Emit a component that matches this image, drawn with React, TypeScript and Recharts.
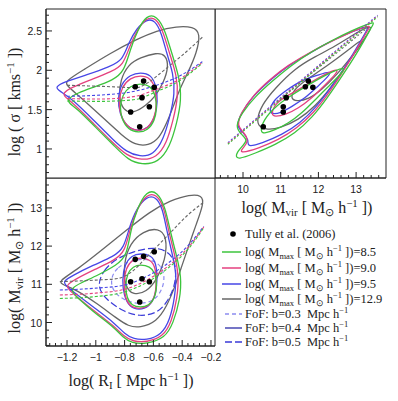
import React from 'react';
import { ComposedChart, Line, Scatter, XAxis, YAxis, ReferenceArea } from 'recharts';

// ---------------- data ----------------
// Tully et al. (2006) groups
const tullyLogR = [-0.726, -0.668, -0.594, -0.679, -0.628, -0.758, -0.695];
const tullyLogSigma = [1.79, 1.864, 1.784, 1.652, 1.537, 1.47, 1.283];
const tullyLogMvir = [11.654, 11.733, 11.853, 11.147, 11.068, 11.068, 10.537];

// tick labels
const rMajorTicks = [-1.2, -1, -0.8, -0.6, -0.4, -0.2];
const sigmaMajorTicks = [1, 1.5, 2, 2.5];
const mvirMajorTicks = [10, 11, 12, 13];

// ---- top-left panel: log sigma vs log R ----
const tlGrayOuter = [[-1.215, 1.86], [-1.087, 2.004], [-0.901, 2.216], [-0.716, 2.394], [-0.577, 2.504], [-0.438, 2.56], [-0.323, 2.555], [-0.272, 2.47], [-0.3, 2.216], [-0.357, 1.983], [-0.415, 1.771], [-0.462, 1.538], [-0.508, 1.326], [-0.559, 1.136], [-0.635, 1.04], [-0.728, 1.052], [-0.809, 1.157], [-0.971, 1.432], [-1.11, 1.665], [-1.2, 1.8]];
const tlGrayInner = [[-0.693, 2.16], [-0.577, 2.225], [-0.515, 2.2], [-0.493, 2.047], [-0.531, 1.835], [-0.589, 1.665], [-0.647, 1.559], [-0.739, 1.45], [-0.812, 1.49], [-0.84, 1.665], [-0.83, 1.877], [-0.774, 2.075]];
const tlBlueOuter = [[-1.285, 1.784], [-1.214, 1.856], [-1.063, 1.941], [-0.901, 2.047], [-0.813, 2.131], [-0.774, 2.343], [-0.716, 2.534], [-0.647, 2.65], [-0.589, 2.638], [-0.543, 2.47], [-0.508, 2.216], [-0.462, 1.962], [-0.45, 1.708], [-0.485, 1.411], [-0.531, 1.114], [-0.6, 0.925], [-0.693, 0.9], [-0.786, 0.96], [-0.878, 1.114], [-1.017, 1.369], [-1.156, 1.623], [-1.255, 1.742]];
const tlPinkOuter = [[-1.232, 1.708], [-1.168, 1.784], [-1.04, 1.877], [-0.89, 1.983], [-0.809, 2.068], [-0.767, 2.3], [-0.712, 2.513], [-0.647, 2.672], [-0.582, 2.667], [-0.531, 2.492], [-0.489, 2.216], [-0.438, 1.941], [-0.427, 1.665], [-0.462, 1.369], [-0.508, 1.072], [-0.577, 0.89], [-0.681, 0.855], [-0.786, 0.915], [-0.878, 1.072], [-1.017, 1.326], [-1.144, 1.559], [-1.212, 1.657]];
const tlGreenOuter = [[-1.198, 1.631], [-1.133, 1.708], [-1.017, 1.784], [-0.878, 1.877], [-0.804, 1.983], [-0.762, 2.258], [-0.709, 2.513], [-0.647, 2.702], [-0.577, 2.694], [-0.519, 2.513], [-0.473, 2.216], [-0.42, 1.919], [-0.404, 1.623], [-0.438, 1.326], [-0.485, 1.03], [-0.566, 0.825], [-0.681, 0.8], [-0.774, 0.858], [-0.867, 1.03], [-1.006, 1.284], [-1.133, 1.517], [-1.185, 1.58]];
const tlBlueInner = [[-0.69, 1.975], [-0.615, 1.945], [-0.58, 1.8], [-0.57, 1.6], [-0.585, 1.42], [-0.635, 1.26], [-0.71, 1.225], [-0.785, 1.28], [-0.835, 1.45], [-0.848, 1.63], [-0.825, 1.83], [-0.76, 1.945]];
const tlPinkInner = [[-0.69, 1.935], [-0.62, 1.905], [-0.585, 1.77], [-0.576, 1.58], [-0.59, 1.4], [-0.64, 1.255], [-0.71, 1.225], [-0.78, 1.275], [-0.83, 1.43], [-0.842, 1.6], [-0.82, 1.79], [-0.76, 1.905]];
const tlGreenInner = [[-0.69, 1.835], [-0.62, 1.805], [-0.585, 1.68], [-0.576, 1.52], [-0.59, 1.36], [-0.64, 1.235], [-0.705, 1.205], [-0.775, 1.245], [-0.82, 1.375], [-0.834, 1.53], [-0.815, 1.69], [-0.76, 1.805]];
const tlGrayMean = [[-1.2, 1.81], [-0.95, 1.795], [-0.72, 1.78], [-0.64, 1.84], [-0.56, 1.95], [-0.5, 2.04], [-0.4, 2.19], [-0.26, 2.42]];
const tlBlueMean = [[-1.2, 1.67], [-0.97, 1.685], [-0.74, 1.73], [-0.577, 1.81], [-0.415, 1.93], [-0.26, 2.11]];
const tlPinkMean = [[-1.2, 1.64], [-0.97, 1.635], [-0.74, 1.665], [-0.577, 1.76], [-0.415, 1.89], [-0.26, 2.1]];
const tlGreenMean = [[-1.2, 1.61], [-0.97, 1.605], [-0.74, 1.625], [-0.577, 1.73], [-0.415, 1.87], [-0.26, 2.09]];

// ---- top-right panel: log sigma vs log Mvir ----
const trGreenOuter = [[9.85, 0.86], [10.318, 0.945], [10.849, 1.051], [11.379, 1.199], [11.821, 1.39], [12.263, 1.665], [12.706, 1.983], [13.103, 2.28], [13.413, 2.555], [13.5, 2.615], [13.324, 2.589], [12.882, 2.504], [12.352, 2.377], [11.821, 2.237], [11.291, 2.068], [10.76, 1.856], [10.318, 1.665], [9.965, 1.453], [9.788, 1.284], [9.965, 1.178], [10.141, 1.114], [9.92, 1.008], [9.8, 0.924]];
const trPinkOuter = [[9.92, 0.945], [10.407, 1.008], [10.937, 1.114], [11.424, 1.263], [11.866, 1.453], [12.308, 1.729], [12.706, 2.025], [13.059, 2.301], [13.324, 2.521], [13.38, 2.57], [13.192, 2.547], [12.794, 2.47], [12.263, 2.352], [11.733, 2.216], [11.202, 2.068], [10.716, 1.886], [10.274, 1.686], [9.947, 1.462], [9.832, 1.292], [10.035, 1.208], [10.159, 1.093], [9.965, 0.996]];
const trBlueOuter = [[10.097, 1.021], [10.495, 1.072], [11.026, 1.178], [11.512, 1.326], [11.954, 1.538], [12.352, 1.792], [12.75, 2.068], [13.059, 2.322], [13.28, 2.504], [13.335, 2.56], [13.148, 2.538], [12.75, 2.462], [12.219, 2.343], [11.689, 2.195], [11.158, 2.047], [10.672, 1.856], [10.23, 1.657], [9.92, 1.432], [9.823, 1.284], [10.009, 1.208], [10.159, 1.114]];
const trGrayOuter = [[10.363, 1.369], [10.495, 1.559], [10.849, 1.771], [11.379, 2.025], [11.91, 2.174], [12.44, 2.301], [12.971, 2.47], [13.38, 2.57], [13.41, 2.53], [13.103, 2.322], [12.75, 2.068], [12.352, 1.792], [11.91, 1.538], [11.468, 1.369], [10.981, 1.263], [10.628, 1.242], [10.424, 1.284]];
const trGrayInner = [[11.247, 1.644], [11.379, 1.771], [11.733, 1.898], [12.263, 2.068], [12.794, 2.258], [13.148, 2.394], [13.192, 2.364], [12.882, 2.174], [12.485, 1.941], [12.087, 1.75], [11.733, 1.631], [11.424, 1.602]];
const trGreenInner = [[10.451, 1.208], [10.539, 1.369], [10.849, 1.538], [11.291, 1.686], [11.733, 1.814], [12.263, 1.962], [12.706, 2.047], [12.661, 1.983], [12.308, 1.814], [11.91, 1.623], [11.556, 1.453], [11.202, 1.326], [10.849, 1.242], [10.584, 1.199]];
const trPinkInner = [[10.743, 1.432], [10.849, 1.581], [11.202, 1.686], [11.645, 1.801], [12.131, 1.941], [12.529, 2.025], [12.485, 1.962], [12.175, 1.814], [11.821, 1.644], [11.468, 1.517], [11.114, 1.432], [10.849, 1.411]];
const trBlueInner = [[10.69, 1.475], [10.805, 1.623], [11.158, 1.75], [11.556, 1.877], [11.998, 1.941], [12.352, 1.996], [12.263, 1.919], [11.954, 1.784], [11.645, 1.644], [11.291, 1.538], [10.981, 1.453], [10.778, 1.445]];
const trGrayMean = [[10.9, 1.6], [13.35, 2.56]];
const trBlueMean = [[9.6, 1.08], [13.57, 2.7]];
const trPinkMean = [[9.6, 1.07], [13.57, 2.69]];
const trGreenMean = [[9.6, 1.06], [13.57, 2.68]];

// ---- bottom-left panel: log Mvir vs log R ----
const blGrayOuter = [[-1.265, 11.07], [-1.133, 11.375], [-0.971, 11.855], [-0.786, 12.422], [-0.624, 12.902], [-0.485, 13.19], [-0.346, 13.35], [-0.262, 13.33], [-0.25, 13.12], [-0.3, 12.597], [-0.357, 11.986], [-0.404, 11.462], [-0.45, 10.939], [-0.508, 10.415], [-0.577, 10.023], [-0.693, 9.86], [-0.774, 9.9], [-0.855, 10.11], [-0.994, 10.503], [-1.133, 10.852], [-1.225, 10.983]];
const blGrayInner = [[-0.67, 12.39], [-0.566, 12.48], [-0.505, 12.25], [-0.516, 11.637], [-0.577, 11.113], [-0.647, 10.8], [-0.739, 10.71], [-0.8, 10.939], [-0.807, 11.55], [-0.762, 12.08]];
const blBlueOuter = [[-1.23, 11.07], [-1.168, 11.218], [-1.017, 11.506], [-0.878, 11.724], [-0.804, 11.942], [-0.767, 12.51], [-0.716, 12.99], [-0.647, 13.3], [-0.582, 13.3], [-0.536, 12.99], [-0.508, 12.422], [-0.473, 11.855], [-0.438, 11.288], [-0.45, 10.677], [-0.485, 10.066], [-0.543, 9.68], [-0.647, 9.54], [-0.739, 9.566], [-0.797, 9.69], [-0.867, 9.979], [-1.006, 10.372], [-1.144, 10.764], [-1.205, 10.956]];
const blPinkOuter = [[-1.205, 10.983], [-1.144, 11.131], [-1.006, 11.393], [-0.867, 11.637], [-0.797, 11.855], [-0.762, 12.466], [-0.712, 12.99], [-0.647, 13.36], [-0.577, 13.36], [-0.526, 13.016], [-0.496, 12.422], [-0.457, 11.855], [-0.422, 11.244], [-0.434, 10.633], [-0.473, 10.023], [-0.531, 9.63], [-0.647, 9.48], [-0.744, 9.505], [-0.804, 9.635], [-0.874, 9.909], [-1.006, 10.284], [-1.133, 10.677], [-1.19, 10.869]];
const blGreenOuter = [[-1.17, 10.895], [-1.11, 11.026], [-0.982, 11.244], [-0.855, 11.506], [-0.786, 11.724], [-0.758, 12.422], [-0.712, 12.99], [-0.647, 13.45], [-0.573, 13.43], [-0.519, 13.033], [-0.485, 12.422], [-0.443, 11.812], [-0.404, 11.201], [-0.415, 10.59], [-0.462, 9.979], [-0.519, 9.595], [-0.647, 9.435], [-0.751, 9.46], [-0.809, 9.6], [-0.878, 9.892], [-1.006, 10.241], [-1.11, 10.59], [-1.158, 10.764]];
const blBlueInner = [[-0.69, 11.81], [-0.615, 11.76], [-0.58, 11.55], [-0.572, 11.1], [-0.585, 10.7], [-0.63, 10.4], [-0.7, 10.33], [-0.765, 10.4], [-0.805, 10.7], [-0.817, 11.1], [-0.8, 11.52], [-0.75, 11.76]];
const blPinkInner = [[-0.69, 11.7], [-0.62, 11.65], [-0.585, 11.45], [-0.578, 11.03], [-0.59, 10.64], [-0.636, 10.41], [-0.7, 10.35], [-0.76, 10.41], [-0.797, 10.64], [-0.807, 11.03], [-0.792, 11.43], [-0.745, 11.65]];
const blGreenInner = [[-0.69, 11.52], [-0.625, 11.47], [-0.585, 11.3], [-0.575, 10.96], [-0.588, 10.64], [-0.632, 10.44], [-0.69, 10.395], [-0.75, 10.44], [-0.785, 10.64], [-0.795, 10.96], [-0.782, 11.29], [-0.74, 11.47]];
const blFof05 = [[-0.994, 10.939], [-0.948, 11.375], [-0.855, 11.681], [-0.739, 11.855], [-0.6, 11.986], [-0.485, 11.855], [-0.438, 11.462], [-0.45, 10.939], [-0.508, 10.503], [-0.577, 10.241], [-0.693, 10.154], [-0.809, 10.284], [-0.925, 10.59]];
const blFof03 = [[-0.901, 11.113], [-0.855, 11.462], [-0.739, 11.637], [-0.624, 11.681], [-0.531, 11.462], [-0.519, 11.026], [-0.577, 10.59], [-0.693, 10.459], [-0.809, 10.59], [-0.878, 10.808]];
const blGrayMean = [[-1.25, 11.07], [-1.0, 11.11], [-0.85, 11.15], [-0.75, 11.33], [-0.65, 11.7], [-0.5, 12.28], [-0.35, 12.85], [-0.25, 13.15]];
const blBlueMean = [[-1.25, 10.85], [-1.0, 10.9], [-0.8, 10.98], [-0.65, 11.2], [-0.5, 11.55], [-0.35, 12.05], [-0.25, 12.52]];
const blPinkMean = [[-1.25, 10.72], [-1.0, 10.77], [-0.8, 10.87], [-0.65, 11.1], [-0.5, 11.47], [-0.35, 12.0], [-0.25, 12.5]];
const blGreenMean = [[-1.25, 10.63], [-1.0, 10.68], [-0.8, 10.8], [-0.65, 11.04], [-0.5, 11.42], [-0.35, 11.96], [-0.25, 12.48]];

// legend
const mmaxValues = ['8.5', '9.0', '9.5', '12.9'];
const fofValues = ['0.3', '0.4', '0.5'];

// ---------------- style ----------------
const GREEN = '#3cc43c';
const PINK = '#e4417f';
const BLUE = '#4646e6';
const GRAY = '#666666';
const FOF03 = '#8c8cf0';
const FOF04 = '#2a2aa8';
const FOF05 = '#3a3ad8';
const FRAME = '#222';
const SANS = '"Liberation Sans", Arial, sans-serif';
const SERIF = '"Liberation Serif", "Times New Roman", serif';

const steps = (from: number, to: number, step: number) => {
  const out: number[] = [];
  for (let i = 0; i < 1000; i++) {
    const v = +(from + i * step).toFixed(4);
    if (v > to + 1e-9) break;
    out.push(v);
  }
  return out;
};
const rTicks = steps(-1.32, -0.2, 0.04);
const sigmaTicks = steps(0.7, 2.7, 0.1);
const mvirTicks = steps(9.4, 13.6, 0.2);

const rDomain: [number, number] = [-1.346, -0.172];
const sigmaDomain: [number, number] = [0.631, 2.779];
const mvirXDomain: [number, number] = [9.257, 13.793];
const mvirYDomain: [number, number] = [9.385, 13.783];

const fmt = (v: number) => (v < 0 ? '\u2212' : '') + String(Math.abs(v));

type Side = 'bottom' | 'top' | 'left' | 'right';
function tickFor(side: Side, majors: number[], labels: boolean) {
  return function TickMark(props: any) {
    const x = Number(props.x);
    const y = Number(props.y);
    const v = Number(props.payload.value);
    const major = majors.some((m) => Math.abs(m - v) < 1e-6);
    const len = major ? 6 : 3;
    let x2 = x;
    let y2 = y;
    if (side === 'bottom') y2 = y - len;
    if (side === 'top') y2 = y + len;
    if (side === 'left') x2 = x + len;
    if (side === 'right') x2 = x - len;
    let label = null;
    if (labels && major) {
      label =
        side === 'bottom' ? (
          <text x={x} y={y + 15} textAnchor="middle" fontFamily={SANS} fontSize={10.5} fill="#222" stroke="none">
            {fmt(v)}
          </text>
        ) : (
          <text x={x - 4} y={y + 4} textAnchor="end" fontFamily={SANS} fontSize={10.5} fill="#222" stroke="none">
            {fmt(v)}
          </text>
        );
    }
    return (
      <g>
        <path d={`M${x},${y}L${x2},${y2}`} stroke={FRAME} strokeWidth={1} fill="none" />
        {label}
      </g>
    );
  };
}

const toPts = (a: number[][]) => a.map(([x, y]) => ({ x, y }));
const zipPts = (xs: number[], ys: number[]) => xs.map((x, i) => ({ x, y: ys[i] }));

function curve(key: string, data: number[][], color: string, closed = true, dash?: string, width = 1.3) {
  return (
    <Line
      key={key}
      data={toPts(data)}
      dataKey="y"
      type={closed ? 'basisClosed' : 'monotone'}
      stroke={color}
      strokeWidth={width}
      strokeDasharray={dash}
      dot={false}
      activeDot={false}
      isAnimationActive={false}
      legendType="none"
    />
  );
}

function axes(cfg: {
  xDomain: [number, number];
  yDomain: [number, number];
  xTicks: number[];
  yTicks: number[];
  xMajors: number[];
  yMajors: number[];
  xLabels: boolean;
  yLabels: boolean;
  xHeight: number;
  yWidth: number;
}) {
  const common = { type: 'number' as const, allowDataOverflow: true, interval: 0 as const, tickSize: 0, tickMargin: 0, tickLine: false, axisLine: { stroke: FRAME, strokeWidth: 1 }, stroke: FRAME };
  return [
    <XAxis key="xb" dataKey="x" domain={cfg.xDomain} ticks={cfg.xTicks} height={cfg.xHeight} tick={tickFor('bottom', cfg.xMajors, cfg.xLabels)} {...common} />,
    <XAxis key="xt" xAxisId="top" orientation="top" dataKey="x" domain={cfg.xDomain} ticks={cfg.xTicks} height={0} tick={tickFor('top', cfg.xMajors, false)} {...common} />,
    <YAxis key="yl" dataKey="y" domain={cfg.yDomain} ticks={cfg.yTicks} width={cfg.yWidth} tick={tickFor('left', cfg.yMajors, cfg.yLabels)} {...common} />,
    <YAxis key="yr" yAxisId="right" orientation="right" dataKey="y" domain={cfg.yDomain} ticks={cfg.yTicks} width={0} tick={tickFor('right', cfg.yMajors, false)} {...common} />,
    <ReferenceArea key="frame" x1={cfg.xDomain[0]} x2={cfg.xDomain[1]} y1={cfg.yDomain[0]} y2={cfg.yDomain[1]} fill="none" fillOpacity={0} stroke={FRAME} strokeWidth={1} ifOverflow="visible" />,
  ];
}

function dots(data: { x: number; y: number }[]) {
  return (
    <Scatter
      key="tully"
      data={data}
      isAnimationActive={false}
      legendType="none"
      shape={(p: any) => <circle cx={p.cx} cy={p.cy} r={2.8} fill="#000" />}
    />
  );
}

const Sub = ({ children }: { children: React.ReactNode }) => (
  <sub style={{ fontSize: '0.68em', verticalAlign: '-0.3em', lineHeight: 0 }}>{children}</sub>
);
const Sup = ({ children }: { children: React.ReactNode }) => (
  <sup style={{ fontSize: '0.68em', verticalAlign: '0.55em', lineHeight: 0 }}>{children}</sup>
);

const abs = (left: number, top: number, extra: React.CSSProperties = {}): React.CSSProperties => ({ position: 'absolute', left, top, ...extra });

export default function App() {
  const legendTop = [252, 268, 284, 299];
  const fofTop = [314, 328, 342];
  const mmaxColors = [GREEN, PINK, BLUE, GRAY];
  const fofStyles = [
    { c: FOF03, d: '4 3' },
    { c: FOF04, d: undefined },
    { c: FOF05, d: '7 3' },
  ];
  return (
    <div style={{ position: 'absolute', left: 0, top: 0, width: 398, height: 401, background: '#fff', overflow: 'hidden', fontFamily: SERIF, color: '#222' }}>
      {/* top-left */}
      <div style={abs(0, 0)}>
        <ComposedChart width={216} height={179} margin={{ top: 9, right: 1, bottom: 1, left: 0 }}>
          {axes({ xDomain: rDomain, yDomain: sigmaDomain, xTicks: rTicks, yTicks: sigmaTicks, xMajors: rMajorTicks, yMajors: sigmaMajorTicks, xLabels: false, yLabels: true, xHeight: 0, yWidth: 46 })}
          {curve('g1', tlGrayOuter, GRAY)}
          {curve('g2', tlGrayInner, GRAY)}
          {curve('b1', tlBlueOuter, BLUE)}
          {curve('p1', tlPinkOuter, PINK)}
          {curve('gr1', tlGreenOuter, GREEN)}
          {curve('b2', tlBlueInner, BLUE)}
          {curve('p2', tlPinkInner, PINK)}
          {curve('gr2', tlGreenInner, GREEN)}
          {curve('gm', tlGrayMean, GRAY, false, '3 2', 1.1)}
          {curve('bm', tlBlueMean, BLUE, false, '3 2', 1.1)}
          {curve('pm', tlPinkMean, PINK, false, '3 2', 1.1)}
          {curve('grm', tlGreenMean, GREEN, false, '3 2', 1.1)}
          {dots(zipPts(tullyLogR, tullyLogSigma))}
        </ComposedChart>
      </div>
      {/* top-right */}
      <div style={abs(215, 0)}>
        <ComposedChart width={183} height={200} margin={{ top: 9, right: 12, bottom: 0, left: 0 }}>
          {axes({ xDomain: mvirXDomain, yDomain: sigmaDomain, xTicks: mvirTicks, yTicks: sigmaTicks, xMajors: mvirMajorTicks, yMajors: sigmaMajorTicks, xLabels: true, yLabels: false, xHeight: 22, yWidth: 0 })}
          {curve('g1', trGrayOuter, GRAY)}
          {curve('g2', trGrayInner, GRAY)}
          {curve('b1', trBlueOuter, BLUE)}
          {curve('p1', trPinkOuter, PINK)}
          {curve('gr1', trGreenOuter, GREEN)}
          {curve('b2', trBlueInner, BLUE)}
          {curve('p2', trPinkInner, PINK)}
          {curve('gr2', trGreenInner, GREEN)}
          {curve('gm', trGrayMean, GRAY, false, '2 2', 1.1)}
          {curve('bm', trBlueMean, BLUE, false, '2 2', 1.1)}
          {curve('pm', trPinkMean, PINK, false, '2 2', 1.1)}
          {curve('grm', trGreenMean, GREEN, false, '2 2', 1.1)}
          {dots(zipPts(tullyLogMvir, tullyLogSigma))}
        </ComposedChart>
      </div>
      {/* bottom-left */}
      <div style={abs(0, 178)}>
        <ComposedChart width={232} height={190} margin={{ top: 0, right: 17, bottom: 0, left: 0 }}>
          {axes({ xDomain: rDomain, yDomain: mvirYDomain, xTicks: rTicks, yTicks: mvirTicks, xMajors: rMajorTicks, yMajors: mvirMajorTicks, xLabels: true, yLabels: true, xHeight: 22, yWidth: 46 })}
          {curve('g1', blGrayOuter, GRAY)}
          {curve('g2', blGrayInner, GRAY)}
          {curve('f5', blFof05, FOF05, true, '7 3', 1.2)}
          {curve('f3', blFof03, FOF03, true, '4 3', 1.2)}
          {curve('b1', blBlueOuter, BLUE)}
          {curve('p1', blPinkOuter, PINK)}
          {curve('gr1', blGreenOuter, GREEN)}
          {curve('b2', blBlueInner, BLUE)}
          {curve('p2', blPinkInner, PINK)}
          {curve('gr2', blGreenInner, GREEN)}
          {curve('gm', blGrayMean, GRAY, false, '3 2', 1.1)}
          {curve('bm', blBlueMean, BLUE, false, '3 2', 1.1)}
          {curve('pm', blPinkMean, PINK, false, '3 2', 1.1)}
          {curve('grm', blGreenMean, GREEN, false, '3 2', 1.1)}
          {dots(zipPts(tullyLogR, tullyLogMvir))}
        </ComposedChart>
      </div>

      {/* axis titles */}
      <div style={abs(-85, 92, { width: 200, height: 20, lineHeight: '20px', textAlign: 'center', fontSize: 16, transform: 'rotate(-90deg)', whiteSpace: 'nowrap' })}>
        log ( σ [ kms<Sup>−1</Sup> ])
      </div>
      <div style={abs(-85, 258, { width: 200, height: 20, lineHeight: '20px', textAlign: 'center', fontSize: 16, transform: 'rotate(-90deg)', whiteSpace: 'nowrap' })}>
        log( M<Sub>vir</Sub> [ M<Sub>⊙</Sub> h<Sup>−1</Sup> ])
      </div>
      <div style={abs(31, 371, { width: 200, height: 20, lineHeight: '20px', textAlign: 'center', fontSize: 16, whiteSpace: 'nowrap' })}>
        log( R<Sub>I</Sub> [ Mpc h<Sup>−1</Sup> ])
      </div>
      <div style={abs(207, 198, { width: 200, height: 20, lineHeight: '20px', textAlign: 'center', fontSize: 16, whiteSpace: 'nowrap' })}>
        log( M<Sub>vir</Sub> [ M<Sub>⊙</Sub> h<Sup>−1</Sup> ])
      </div>

      {/* legend */}
      <svg style={abs(218, 226)} width={24} height={130}>
        <circle cx={15} cy={8} r={2.8} fill="#000" />
        {legendTop.map((t, i) => (
          <path key={'m' + i} d={`M4,${t - 226}L23,${t - 226}`} stroke={mmaxColors[i]} strokeWidth={1.5} />
        ))}
        {fofTop.map((t, i) => (
          <path key={'f' + i} d={`M7,${t - 226}L24,${t - 226}`} stroke={fofStyles[i].c} strokeWidth={1.3} strokeDasharray={fofStyles[i].d} />
        ))}
      </svg>
      <div style={abs(245, 226, { fontSize: 12.5, lineHeight: '16px', whiteSpace: 'nowrap' })}>Tully et al. (2006)</div>
      {mmaxValues.map((v, i) => (
        <div key={v} style={abs(245, legendTop[i] - 8, { fontSize: 12.5, lineHeight: '16px', whiteSpace: 'nowrap' })}>
          log( M<Sub>max</Sub> [ M<Sub>⊙</Sub> h<Sup>−1</Sup> ])={v}
        </div>
      ))}
      {fofValues.map((v, i) => (
        <div key={v} style={abs(245, fofTop[i] - 8, { fontSize: 12.5, lineHeight: '16px', whiteSpace: 'pre' })}>
          FoF: b={v}  Mpc h<Sup>−1</Sup>
        </div>
      ))}
    </div>
  );
}
